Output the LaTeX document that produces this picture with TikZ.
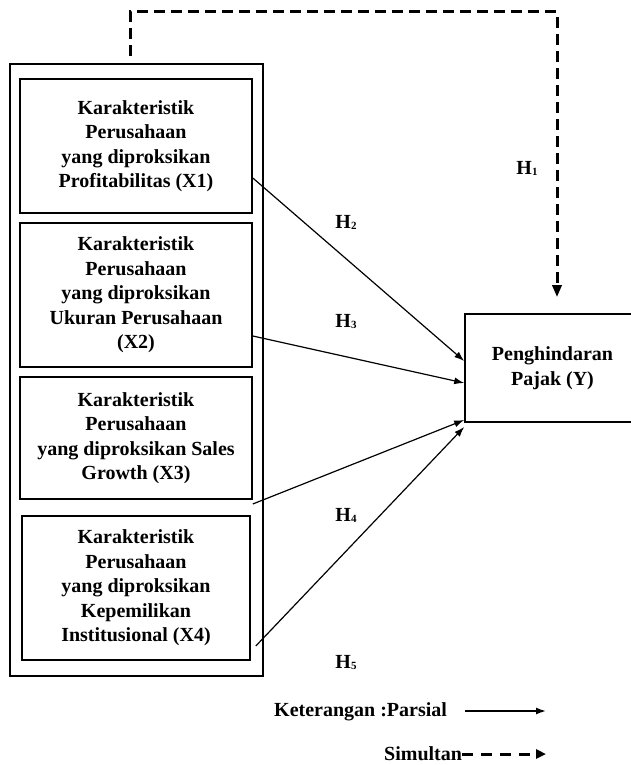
\documentclass[tikz,border=0pt]{standalone}
\usepackage{fontspec}
\setmainfont{Liberation Serif}
\usetikzlibrary{arrows.meta,calc}
\begin{document}
\begin{tikzpicture}[x=1pt,y=-1pt,
  txt/.style={font=\fontsize{20}{24.5}\selectfont\bfseries, align=center},
  varbox/.style={draw, line width=1.6pt, minimum width=232pt, inner sep=0pt, txt},
  parsial/.style={line width=1.2pt, -{Latex[length=10pt,width=7pt]}},
  simultan/.style={line width=3pt, dash pattern=on 11pt off 6pt, -{Triangle[length=12pt,width=9pt]}},
  hlab/.style={font=\fontsize{20}{24}\selectfont\bfseries}]
\useasboundingbox (0,0) rectangle (631,765);
\fill[white] (0,0) rectangle (631,765);
% outer frame
\node[draw, line width=2.5pt, minimum width=253pt, minimum height=612pt, inner sep=0pt] (outer) at (136.5,370) {};
% variable boxes
\node[varbox, minimum height=134pt] (X1) at (136,146)
  {Karakteristik\\Perusahaan\\yang diproksikan\\Profitabilitas (X1)};
\node[varbox, minimum height=144pt] (X2) at (136,295)
  {Karakteristik\\Perusahaan\\yang diproksikan\\Ukuran Perusahaan\\(X2)};
\node[varbox, minimum height=122pt] (X3) at (136,438)
  {Karakteristik\\Perusahaan\\yang diproksikan Sales\\Growth (X3)};
\node[varbox, minimum width=228pt, minimum height=144pt] (X4) at (136,588)
  {Karakteristik\\Perusahaan\\yang diproksikan\\Kepemilikan\\Institusional (X4)};
% dependent variable
\node[draw, line width=1.6pt, minimum width=175pt, minimum height=108pt, inner sep=0pt, txt] (Y) at (552.5,368)
  {Penghindaran\\Pajak (Y)};
% partial arrows
\draw[parsial] ([yshift=-32pt]X1.east) -- ([yshift=7pt]Y.west);
\draw[parsial] ([yshift=-41pt]X2.east) -- ([yshift=-15pt]Y.west);
\draw[parsial] ([yshift=-66pt]X3.east) -- ([yshift=-52pt]Y.west);
\draw[parsial] ([xshift=5pt,yshift=-58pt]X4.east) -- ([yshift=-59pt]Y.west);
% simultaneous path
\coordinate (d1) at (130,12);
\coordinate (d2) at (557,12);
\draw[simultan, shorten <=7pt, shorten >=16pt] (outer.north -| d1) -- (d1) -- (d2) -- (Y.north -| d2);
% hypothesis labels
\node[hlab] (H1) at (527,168) {H\raisebox{-1pt}{\fontsize{11}{11}\selectfont 1}};
\node[hlab] (H2) at (346,222) {H\raisebox{-1pt}{\fontsize{11}{11}\selectfont 2}};
\node[hlab] (H3) at (346,322) {H\raisebox{-1pt}{\fontsize{11}{11}\selectfont 3}};
\node[hlab] (H4) at (346,515) {H\raisebox{-1pt}{\fontsize{11}{11}\selectfont 4}};
\node[hlab] (H5) at (346,662) {H\raisebox{-1pt}{\fontsize{11}{11}\selectfont 5}};
% legend
\node[hlab, anchor=west, inner sep=0pt] (leg1) at (274,712) {Keterangan :Parsial};
\coordinate (p1) at (465,711);
\coordinate (p2) at (546,711);
\draw[parsial, line width=1.5pt] (p1) -- (p2);
\node[hlab, anchor=west, inner sep=0pt] (leg2) at (384,754) {Simultan};
\coordinate (s2) at (546,754);
\draw[line width=3pt, dash pattern=on 11pt off 8pt, -{Triangle[length=10pt,width=9pt]}] (leg2.east) -- (s2);
\end{tikzpicture}
\end{document}
